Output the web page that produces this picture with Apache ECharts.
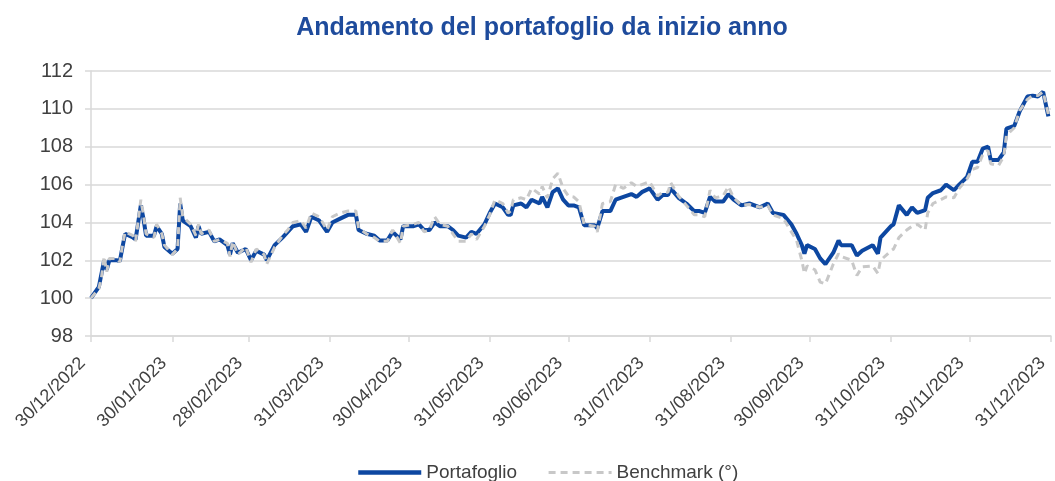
<!DOCTYPE html>
<html>
<head>
<meta charset="utf-8">
<script src="https://cdn.jsdelivr.net/npm/echarts@6/dist/echarts.min.js"></script>
<style>
  html, body { margin: 0; padding: 0; background: #ffffff; }
  #chart { width: 1055px; height: 481px; }
</style>
</head>
<body>
<div id="chart"></div>
<script>
// date di rilevazione
var dates = [
  '2022-12-30','2023-01-02','2023-01-03','2023-01-04','2023-01-05','2023-01-06','2023-01-09','2023-01-10','2023-01-11','2023-01-12',
  '2023-01-15','2023-01-16','2023-01-18','2023-01-19','2023-01-20','2023-01-23','2023-01-24','2023-01-26','2023-01-27','2023-01-30',
  '2023-02-01','2023-02-02','2023-02-03','2023-02-06','2023-02-08','2023-02-09','2023-02-10','2023-02-13','2023-02-15','2023-02-17',
  '2023-02-20','2023-02-21','2023-02-22','2023-02-24','2023-02-27','2023-03-01','2023-03-03','2023-03-06','2023-03-07','2023-03-10',
  '2023-03-13','2023-03-15','2023-03-17','2023-03-20','2023-03-22','2023-03-24','2023-03-27','2023-03-30','2023-04-01','2023-04-04',
  '2023-04-07','2023-04-10','2023-04-11','2023-04-14','2023-04-17','2023-04-19','2023-04-22','2023-04-24','2023-04-27','2023-04-28',
  '2023-05-02','2023-05-04','2023-05-06','2023-05-08','2023-05-10','2023-05-12','2023-05-15','2023-05-17','2023-05-19','2023-05-22',
  '2023-05-24','2023-05-26','2023-05-29','2023-05-31','2023-06-02','2023-06-05','2023-06-07','2023-06-08','2023-06-09','2023-06-12',
  '2023-06-14','2023-06-16','2023-06-19','2023-06-20','2023-06-22','2023-06-24','2023-06-26','2023-06-28','2023-06-30','2023-07-02',
  '2023-07-04','2023-07-06','2023-07-10','2023-07-11','2023-07-13','2023-07-16','2023-07-18','2023-07-21','2023-07-24','2023-07-26',
  '2023-07-28','2023-07-31','2023-08-03','2023-08-05','2023-08-07','2023-08-08','2023-08-11','2023-08-14','2023-08-17','2023-08-19',
  '2023-08-21','2023-08-23','2023-08-25','2023-08-28','2023-08-30','2023-09-01','2023-09-04','2023-09-07','2023-09-11','2023-09-14',
  '2023-09-16','2023-09-20','2023-09-23','2023-09-25','2023-09-27','2023-09-28','2023-09-29','2023-10-02','2023-10-04','2023-10-06',
  '2023-10-09','2023-10-11','2023-10-12','2023-10-16','2023-10-18','2023-10-20','2023-10-24','2023-10-26','2023-10-27','2023-10-31',
  '2023-11-01','2023-11-03','2023-11-06','2023-11-08','2023-11-10','2023-11-13','2023-11-14','2023-11-16','2023-11-19','2023-11-21',
  '2023-11-24','2023-11-26','2023-11-29','2023-12-01','2023-12-03','2023-12-05','2023-12-07','2023-12-08','2023-12-11','2023-12-13',
  '2023-12-14','2023-12-17','2023-12-19','2023-12-22','2023-12-24','2023-12-26','2023-12-28','2023-12-30'
];

var portafoglio = [
  100.0,100.6,101.3,102.0,101.5,102.0,102.0,101.95,102.7,103.4,
  103.2,103.1,104.9,104.2,103.3,103.3,103.8,103.4,102.7,102.35,
  102.6,105.0,104.1,103.8,103.2,103.8,103.4,103.5,103.0,103.1,
  102.8,102.3,102.9,102.4,102.6,102.0,102.5,102.3,102.0,102.8,
  103.2,103.5,103.8,103.9,103.5,104.3,104.1,103.5,104.0,104.2,
  104.4,104.4,103.6,103.4,103.3,103.05,103.05,103.5,103.1,103.8,
  103.8,103.9,103.6,103.6,104.0,103.8,103.8,103.6,103.3,103.2,
  103.5,103.4,103.9,104.5,105.0,104.8,104.4,104.4,104.9,105.0,
  104.8,105.2,105.0,105.35,104.8,105.6,105.8,105.2,104.9,104.9,
  104.8,103.85,103.85,103.7,104.6,104.6,105.2,105.35,105.5,105.35,
  105.6,105.8,105.2,105.45,105.45,105.8,105.3,105.0,104.6,104.6,
  104.5,105.35,105.1,105.1,105.5,105.2,104.9,105.0,104.8,105.0,
  104.5,104.4,103.9,103.4,102.8,102.35,102.8,102.6,102.1,101.8,
  102.4,103.05,102.8,102.8,102.25,102.5,102.8,102.35,103.2,103.8,
  103.9,104.9,104.4,104.8,104.5,104.65,105.3,105.55,105.7,106.0,
  105.7,106.0,106.4,107.2,107.2,107.9,108.0,107.3,107.3,107.7,
  108.95,109.1,109.85,110.65,110.7,110.65,110.9,109.6
];

var benchmark = [
  100.0,100.5,101.1,102.2,101.4,102.1,102.1,101.9,102.8,103.5,
  103.3,103.0,105.2,104.4,103.4,103.2,103.9,103.4,102.8,102.3,
  102.6,105.3,104.3,103.9,103.3,103.9,103.4,103.6,103.0,103.1,
  102.9,102.2,103.0,102.3,102.7,101.9,102.6,102.3,101.8,102.7,
  103.3,103.6,104.0,104.1,103.7,104.5,104.3,103.6,104.3,104.5,
  104.6,104.6,103.7,103.4,103.2,103.0,103.0,103.6,102.9,103.8,
  103.9,104.0,103.5,103.6,104.3,103.9,103.8,103.4,103.0,103.0,
  103.4,103.1,103.8,104.4,105.2,105.0,104.5,104.6,105.2,105.3,
  105.2,105.8,105.5,105.9,105.3,106.3,106.6,105.8,105.4,105.35,
  105.1,103.9,103.8,103.5,105.0,105.1,106.0,105.8,106.1,105.9,
  106.0,106.15,105.4,105.6,105.6,106.1,105.4,104.9,104.4,104.4,
  104.3,105.7,105.3,105.4,105.9,105.3,104.9,104.95,104.8,104.9,
  104.4,104.2,103.5,103.05,102.0,101.3,101.7,101.5,100.85,100.75,
  101.8,102.35,102.2,102.0,101.2,101.65,101.7,101.3,102.0,102.5,
  102.6,103.2,103.6,103.8,103.9,103.6,104.5,105.0,105.2,105.35,
  105.3,105.8,106.3,106.8,106.9,107.6,107.8,107.1,107.0,107.5,
  108.6,109.0,109.9,110.5,110.7,110.7,110.9,109.7
];

// etichette asse x (fine mese)
var tickLabels = [
  '30/12/2022','30/01/2023','28/02/2023','31/03/2023','30/04/2023','31/05/2023','30/06/2023',
  '31/07/2023','31/08/2023','30/09/2023','31/10/2023','30/11/2023','31/12/2023'
];

function labelToTime(s) {
  var p = s.split('/');
  return new Date(+p[2], +p[1] - 1, +p[0]).getTime();
}
function isoToTime(s) {
  var p = s.split('-');
  return new Date(+p[0], +p[1] - 1, +p[2]).getTime();
}
function pad(n) { return n < 10 ? '0' + n : '' + n; }

var tickValues = tickLabels.map(labelToTime);
var times = dates.map(isoToTime);

var chart = echarts.init(document.getElementById('chart'), null, { renderer: 'canvas' });

var option = {
  backgroundColor: '#ffffff',
  animation: false,
  textStyle: { fontFamily: 'Liberation Sans, Arial, sans-serif' },
  title: {
    text: 'Andamento del portafoglio da inizio anno',
    left: 537,
    textAlign: 'center',
    top: 11,
    textStyle: { color: '#1e4b9c', fontSize: 25, fontWeight: 'bold', fontFamily: 'Liberation Sans, Arial, sans-serif' }
  },
  legend: {
    top: 458,
    left: 351,
    itemWidth: 63,
    itemHeight: 14,
    itemGap: 30,
    itemStyle: { opacity: 0 },
    textStyle: { color: '#404040', fontSize: 19 },
    data: [
      { name: 'Portafoglio', lineStyle: { width: 4.5 } },
      { name: 'Benchmark (°)', lineStyle: { width: 3, type: [7, 5] } }
    ]
  },
  grid: { left: 91, right: 4, top: 71, bottom: 145, containLabel: false },
  xAxis: {
    type: 'value',
    min: tickValues[0],
    max: tickValues[tickValues.length - 1],
    axisLine: { show: true, lineStyle: { color: '#d9d9d9', width: 1.5 } },
    axisTick: { show: true, length: 6, lineStyle: { color: '#d9d9d9', width: 1.5 }, customValues: tickValues },
    splitLine: { show: false },
    axisLabel: {
      customValues: tickValues,
      rotate: 45,
      margin: 16,
      padding: [0, 12, 0, 0],
      color: '#404040',
      fontSize: 18,
      formatter: function (val) {
        var d = new Date(val);
        return pad(d.getDate()) + '/' + pad(d.getMonth() + 1) + '/' + d.getFullYear();
      }
    }
  },
  yAxis: {
    type: 'value',
    min: 98,
    max: 112,
    interval: 2,
    axisLine: { show: true, lineStyle: { color: '#d9d9d9', width: 1.5 } },
    axisTick: { show: true, length: 6, lineStyle: { color: '#d9d9d9', width: 1.5 } },
    splitLine: { lineStyle: { color: '#d9d9d9', width: 1.5 } },
    axisLabel: { color: '#404040', fontSize: 20, margin: 18 }
  },
  series: [
    {
      name: 'Portafoglio',
      type: 'line',
      showSymbol: false,
      symbol: 'none',
      data: times.map(function (t, i) { return [t, portafoglio[i]]; }),
      lineStyle: { color: '#0d47a1', width: 4 },
      itemStyle: { color: '#0d47a1' },
      z: 2
    },
    {
      name: 'Benchmark (°)',
      type: 'line',
      showSymbol: false,
      symbol: 'none',
      data: times.map(function (t, i) { return [t, benchmark[i]]; }),
      lineStyle: { color: '#c8c8c8', width: 3, type: [7, 5] },
      itemStyle: { color: '#c8c8c8' },
      z: 3
    }
  ]
};

chart.setOption(option);
</script>
</body>
</html>
